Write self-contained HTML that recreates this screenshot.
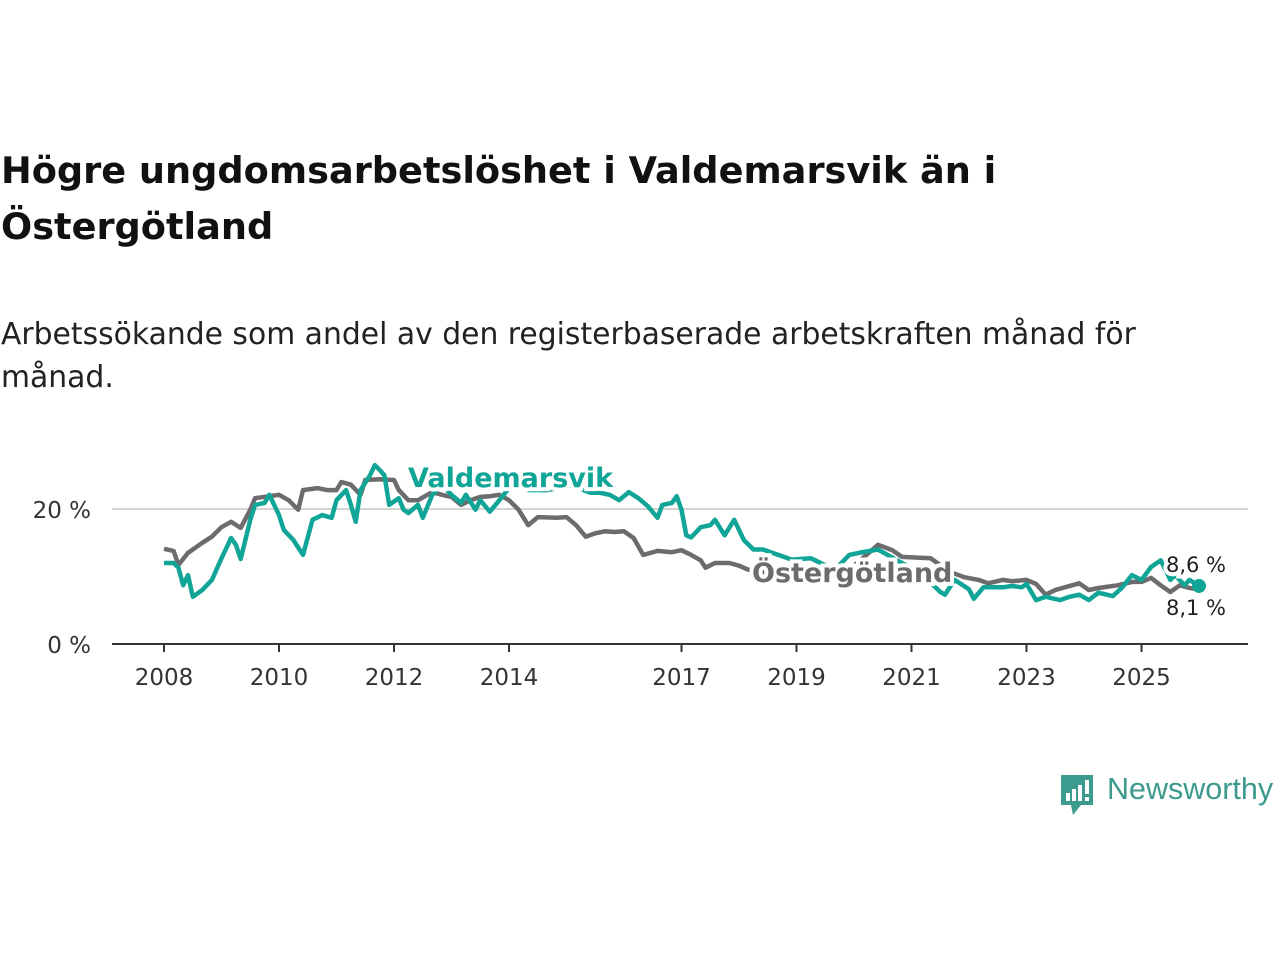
<!DOCTYPE html>
<html><head><meta charset="utf-8"><style>
body{margin:0;width:1280px;height:960px;background:#fff;overflow:hidden;font-family:"DejaVu Sans","Liberation Sans",sans-serif;}
h1{position:absolute;left:1px;top:143px;margin:0;font-size:36.7px;line-height:56px;font-weight:bold;color:#111;width:1100px;}
p.sub{position:absolute;left:1px;top:313px;margin:0;font-size:29.8px;line-height:43px;color:#222;width:1172px;}
svg{position:absolute;left:0;top:0;}
</style></head><body>
<h1>Högre ungdomsarbetslöshet i Valdemarsvik än i Östergötland</h1>
<p class="sub">Arbetssökande som andel av den registerbaserade arbetskraften månad för månad.</p>
<svg id="chart" width="1280" height="960"></svg>
<div style="position:absolute;left:1059px;top:775px;">
<svg width="36" height="42" style="position:absolute;left:0;top:0"><path d="M2 0H34V30H22L14 40L12 30H2Z" fill="#3d9a8e"/><rect x="7" y="18" width="4" height="8" fill="#fff"/><rect x="13" y="14" width="4" height="12" fill="#fff"/><rect x="19" y="10" width="4" height="16" fill="#fff"/><rect x="26" y="5" width="4" height="14" fill="#fff"/><rect x="26" y="22" width="4" height="4" fill="#fff"/></svg>
<span style="position:absolute;left:48px;top:-3px;font-size:30.5px;font-family:'Liberation Sans',sans-serif;color:#3d9a8e;white-space:nowrap;">Newsworthy</span></div>
<script>
const months=[0,2,3,5,8,10,12,14,16,18,19,22,24,26,28,29,32,34,36,37,39,41,42,45,48,49,51,53,56,58,60,62,64,66,68,70,72,74,76,78,82,84,86,88,90,92,94,96,98,100,103,106,108,110,112,113,115,118,120,122,129,135,143,149,152,154,160,164,167,170,172,175,177,180,182,184,186,188,191,193,195,199,202,204,206,208,210,212,214,216];
const ostValues=[14.1,13.8,11.7,13.5,15.0,15.9,17.3,18.1,17.2,19.9,21.6,21.9,22.1,21.3,19.9,22.8,23.1,22.8,22.8,24.0,23.6,22.1,24.3,24.4,24.3,22.8,21.3,21.3,22.5,22.1,21.8,20.6,21.3,21.8,21.9,22.1,21.3,19.9,17.6,18.8,18.7,18.8,17.6,15.9,16.4,16.7,16.6,16.7,15.7,13.2,13.8,13.6,13.9,13.2,12.4,11.3,12.0,12.0,11.6,11.0,10.2,9.2,11.0,14.7,13.9,12.9,12.7,10.7,9.9,9.5,9.0,9.5,9.3,9.5,8.9,7.3,8.0,8.4,9.0,8.0,8.3,8.7,9.2,9.2,9.8,8.7,7.7,8.7,8.3,8.1];
const valMonths=[0,2,3,4,5,6,8,10,12,14,15,16,18,19,21,22,24,25,27,29,31,33,35,36,38,39,40,41,43,44,45,46,47,49,50,51,53,54,56,58,60,62,63,65,66,68,70,72,74,76,80,85,89,91,93,95,97,99,101,103,104,106,107,108,109,110,112,114,115,117,119,121,123,125,131,135,140,143,145,149,154,158,162,163,165,168,169,171,175,177,179,180,182,184,187,189,191,193,195,198,200,202,204,206,208,209,210,211,213,214,216];
const valValues=[12.0,12.0,11.3,8.7,10.2,7.0,8.0,9.5,12.7,15.7,14.7,12.6,18.4,20.6,20.9,22.1,19.1,16.9,15.4,13.2,18.4,19.1,18.7,21.3,22.8,20.6,18.1,22.8,25.0,26.5,25.8,25.0,20.6,21.6,19.9,19.4,20.6,18.7,22.1,23.6,22.1,20.9,22.1,19.9,21.3,19.6,21.3,23.1,23.6,22.8,22.8,23.5,22.4,22.4,22.1,21.3,22.5,21.6,20.4,18.7,20.6,20.9,21.9,19.9,16.1,15.8,17.3,17.6,18.4,16.1,18.4,15.4,14.0,14.0,12.5,12.7,11.0,13.2,13.5,14.0,12.0,10.5,7.7,7.3,9.5,8.1,6.7,8.4,8.4,8.6,8.4,8.9,6.5,7.0,6.5,7.0,7.3,6.5,7.6,7.1,8.4,10.2,9.5,11.4,12.4,11.0,9.5,10.2,8.7,9.5,8.6];
const yTicks=[0,20];
const xTickYears=[2008,2010,2012,2014,2017,2019,2021,2023,2025];
const NS='http://www.w3.org/2000/svg';
const svg=document.getElementById('chart');
const X=m=>164+m*57.5/12;
const Y=v=>644-v*6.75;
function el(t,a,p){const e=document.createElementNS(NS,t);for(const k in a)e.setAttribute(k,a[k]);(p||svg).appendChild(e);return e;}
yTicks.forEach(t=>{
 if(t>0){const g=el('line',{x1:112,x2:1248,y1:Y(t),y2:Y(t),stroke:'#d4d4d4','stroke-width':2});
 
 }
 const tx=el('text',{x:91,y:Y(t)+9,'text-anchor':'end','font-size':23,fill:'#333'});tx.textContent=t+' %';
 
 
});
const ax=el('line',{x1:112,x2:1248,y1:644,y2:644,stroke:'#333','stroke-width':2});


xTickYears.forEach(yr=>{
 const x=X((yr-2008)*12);
 el('line',{x1:x,x2:x,y1:644,y2:652,stroke:'#333','stroke-width':2});
 const tx=el('text',{x:x,y:685,'text-anchor':'middle','font-size':23,fill:'#333'});tx.textContent=yr;
 
 
});
function line(ms,vs,col,name){
 const d=ms.map((m,i)=>(i?'L':'M')+X(m).toFixed(1)+' '+Y(vs[i]).toFixed(1)).join('');
 const p=el('path',{d:d,fill:'none',stroke:col,'stroke-width':4.5,'stroke-linejoin':'round'});
 
 
}
line(months,ostValues,'#6d6b6e','ostergotland-line');
line(valMonths,valValues,'#10a596','valdemarsvik-line');
const dot=el('circle',{cx:X(valMonths[valMonths.length-1]),cy:Y(valValues[valValues.length-1]),r:7,fill:'#10a596'});


function lab(x,y,txt,col,sz,w,name,anchor){
 const t=el('text',{x:x,y:y,'font-size':sz,'font-weight':w,fill:col,stroke:'#fff','stroke-width':8,'paint-order':'stroke','text-anchor':anchor||'start'});t.textContent=txt;
 
 
}
lab(408,487,'Valdemarsvik','#10a596',27,'bold','valdemarsvik-label');
lab(752,582,'Östergötland','#6d6b6e',27,'bold','ostergotland-label');
lab(1226,572,'8,6 %','#222',21,'normal','valdemarsvik-end-value','end');
lab(1226,615,'8,1 %','#222',21,'normal','ostergotland-end-value','end');
</script>
</body></html>
